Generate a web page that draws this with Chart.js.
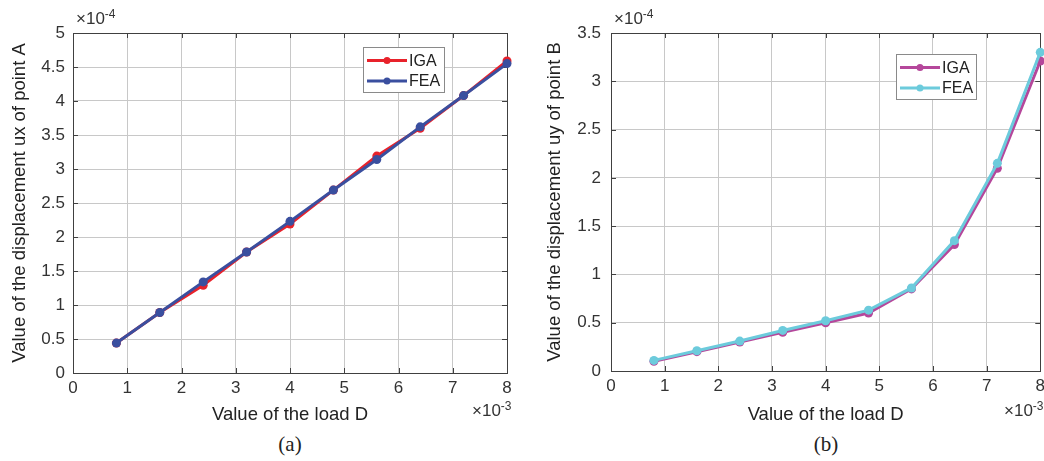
<!DOCTYPE html>
<html>
<head>
<meta charset="utf-8">
<script src="https://cdn.jsdelivr.net/npm/chart.js@4"></script>
<style>
    body { margin: 0; width: 1044px; height: 461px; overflow: hidden; position: relative; background: #fff; font-family: "Liberation Sans", Arial, sans-serif; }
    .wrap { position: absolute; top: 0; height: 430px; }
    .exp { position: absolute; font-size: 17px; line-height: 17px; color: #333; white-space: nowrap; }
    .exp sup { font-size: 12px; position: relative; top: -4px; vertical-align: top; }
    .cap { position: absolute; top: 432px; font-family: "Liberation Serif", "Times New Roman", serif; font-size: 21px; color: #222; transform: translateX(-50%); }
</style>
</head>
<body>
<div class="wrap" style="left:0;width:520px"><canvas id="chartA"></canvas></div>
<div class="wrap" style="left:520px;width:530px"><canvas id="chartB"></canvas></div>

<div class="exp" style="left:76px;top:10px">×10<sup>-4</sup></div>
<div class="exp" style="left:472px;top:402px">×10<sup>-3</sup></div>
<div class="exp" style="left:614px;top:10px">×10<sup>-4</sup></div>
<div class="exp" style="left:1004px;top:402px">×10<sup>-3</sup></div>
<div class="cap" style="left:290px">(a)</div>
<div class="cap" style="left:826px">(b)</div>

<script>
// load D (x 1e-3)
const loadD = [0.8, 1.6, 2.4, 3.2, 4.0, 4.8, 5.6, 6.4, 7.2, 8.0];
// ux of point A (x 1e-4)
const uxIGA = [0.44, 0.89, 1.29, 1.78, 2.19, 2.69, 3.19, 3.60, 4.08, 4.59];
const uxFEA = [0.44, 0.89, 1.34, 1.78, 2.23, 2.69, 3.14, 3.62, 4.08, 4.55];
// uy of point B (x 1e-4)
const uyIGA = [0.10, 0.20, 0.30, 0.40, 0.50, 0.60, 0.85, 1.31, 2.10, 3.21];
const uyFEA = [0.11, 0.21, 0.31, 0.42, 0.52, 0.63, 0.86, 1.35, 2.15, 3.30];

const xTicks = [0, 1, 2, 3, 4, 5, 6, 7, 8];
const yTicksA = [0, 0.5, 1, 1.5, 2, 2.5, 3, 3.5, 4, 4.5, 5];
const yTicksB = [0, 0.5, 1, 1.5, 2, 2.5, 3, 3.5];

const tickFont = { family: '"Liberation Sans", Arial, sans-serif', size: 17 };
const titleFont = { family: '"Liberation Sans", Arial, sans-serif', size: 18.5 };

// box around the axes with inward ticks (matlab style)
const axesBox = {
    id: 'axesBox',
    beforeDatasetsDraw(chart) {
        const { ctx, chartArea: a, scales } = chart;
        ctx.save();
        ctx.strokeStyle = '#404040';
        ctx.lineWidth = 1;
        ctx.strokeRect(Math.round(a.left) + 0.5, Math.round(a.top) + 0.5, Math.round(a.width), Math.round(a.height));
        ctx.beginPath();
        scales.x.ticks.forEach(t => {
            const px = Math.round(scales.x.getPixelForValue(t.value)) + 0.5;
            ctx.moveTo(px, a.bottom); ctx.lineTo(px, a.bottom - 5);
            ctx.moveTo(px, a.top); ctx.lineTo(px, a.top + 5);
        });
        scales.y.ticks.forEach(t => {
            const py = Math.round(scales.y.getPixelForValue(t.value)) + 0.5;
            ctx.moveTo(a.left, py); ctx.lineTo(a.left + 5, py);
            ctx.moveTo(a.right, py); ctx.lineTo(a.right - 5, py);
        });
        ctx.stroke();
        ctx.restore();
    }
};

// legend box inside the plot, top right
const legendBox = {
    id: 'legendBox',
    afterDatasetsDraw(chart, args, opts) {
        const { ctx, chartArea } = chart;
        const x = Math.round(chartArea.right - opts.right - opts.width);
        const y = Math.round(chartArea.top + opts.top);
        ctx.save();
        ctx.fillStyle = '#fff';
        ctx.fillRect(x, y, opts.width, opts.height);
        ctx.strokeStyle = '#8a8a8a';
        ctx.lineWidth = 1;
        ctx.strokeRect(x + 0.5, y + 0.5, opts.width, opts.height);
        ctx.font = '16px "Liberation Sans", Arial, sans-serif';
        ctx.textBaseline = 'middle';
        chart.data.datasets.forEach((ds, i) => {
            const cy = y + 13.5 + i * 20.5;
            ctx.strokeStyle = ds.borderColor;
            ctx.lineWidth = 3;
            ctx.beginPath();
            ctx.moveTo(x + 4, cy); ctx.lineTo(x + 44, cy);
            ctx.stroke();
            ctx.fillStyle = ds.borderColor;
            ctx.beginPath();
            ctx.arc(x + 24, cy, 3.5, 0, Math.PI * 2);
            ctx.fill();
            ctx.fillStyle = '#222';
            ctx.fillText(ds.label, x + 46, cy + 1);
        });
        ctx.restore();
    }
};

function makeSeries(label, ys, color, order) {
    return {
        label: label,
        data: loadD.map((v, i) => ({ x: v, y: ys[i] })),
        borderColor: color,
        backgroundColor: color,
        borderWidth: 3,
        pointRadius: 4.5,
        pointBorderWidth: 0,
        showLine: true,
        clip: false,
        order: order
    };
}

function makeChart(id, datasets, yTicks, yMax, yTitle, cfg) {
    return new Chart(document.getElementById(id), {
        type: 'scatter',
        data: { datasets: datasets },
        plugins: [axesBox, legendBox],
        options: {
            responsive: true,
            maintainAspectRatio: false,
            animation: false,
            layout: { padding: { left: 0, right: cfg.padRight, top: 33, bottom: 0 } },
            plugins: {
                legend: { display: false },
                tooltip: { enabled: false },
                legendBox: cfg.legend
            },
            scales: {
                x: {
                    type: 'linear', min: 0, max: 8,
                    afterBuildTicks: s => { s.ticks = xTicks.map(v => ({ value: v })); },
                    afterFit: s => { s.height = cfg.xH; },
                    grid: { color: '#c8c8c8', drawTicks: false },
                    border: { display: false },
                    ticks: { font: tickFont, color: '#333', padding: 5, callback: v => String(v) },
                    title: { display: true, text: 'Value of the load D', font: titleFont, color: '#222', padding: { bottom: 4 } }
                },
                y: {
                    type: 'linear', min: 0, max: yMax,
                    afterBuildTicks: s => { s.ticks = yTicks.map(v => ({ value: v })); },
                    afterFit: s => { s.width = cfg.yW; },
                    grid: { color: '#c8c8c8', drawTicks: false },
                    border: { display: false },
                    ticks: { font: tickFont, color: '#333', padding: cfg.yPad, callback: v => String(v) },
                    title: { display: true, text: yTitle, font: titleFont, color: '#222', padding: { top: cfg.yTitlePad } }
                }
            }
        }
    });
}

makeChart('chartA',
    [makeSeries('IGA', uxIGA, '#e8222b', 1), makeSeries('FEA', uxFEA, '#3a4f9f', 0)],
    yTicksA, 5, 'Value of the displacement ux of point A',
    { padRight: 13, xH: 57, yW: 73, yPad: 8, yTitlePad: 9,
      legend: { right: 63, top: 14, width: 81, height: 45 } });

makeChart('chartB',
    [makeSeries('IGA', uyIGA, '#b5479b', 1), makeSeries('FEA', uyFEA, '#6ccbdc', 0)],
    yTicksB, 3.5, 'Value of the displacement uy of point B',
    { padRight: 9, xH: 59, yW: 91, yPad: 10, yTitlePad: 24,
      legend: { right: 64, top: 21, width: 80, height: 45 } });
</script>
</body>
</html>
